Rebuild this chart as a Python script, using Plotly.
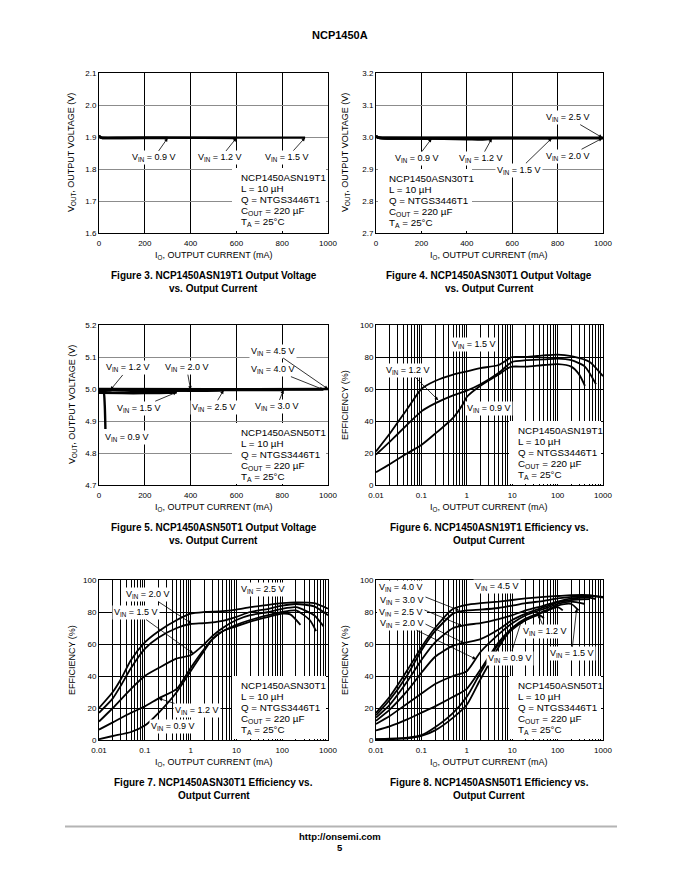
import math
import plotly.graph_objects as go

PAGE_W, PAGE_H = 680, 880
OFF = 8  # default body margin of the html page
W, H = PAGE_W - OFF, PAGE_H - OFF
FONT = "Liberation Sans, Arial, Helvetica, sans-serif"

# ---------------- DATA ----------------
# Figure 3: NCP1450ASN19T1 output voltage (V) vs output current (mA)
f3_io_09 = [0, 5, 15, 50, 150, 300]
f3_vo_09 = [1.905, 1.900, 1.897, 1.897, 1.897, 1.897]
f3_io_12 = [0, 5, 15, 100, 300, 600]
f3_vo_12 = [1.904, 1.899, 1.897, 1.897, 1.898, 1.897]
f3_io_15 = [0, 5, 15, 100, 500, 900]
f3_vo_15 = [1.903, 1.899, 1.898, 1.898, 1.898, 1.898]

# Figure 4: NCP1450ASN30T1 output voltage
f4_io_09 = [0, 10, 30, 100, 200, 245]
f4_vo_09 = [3.003, 2.998, 2.996, 2.995, 2.995, 2.995]
f4_io_12 = [0, 10, 30, 200, 400, 470, 510]
f4_vo_12 = [3.002, 2.998, 2.996, 2.995, 2.993, 2.992, 2.995]
f4_io_15 = [0, 10, 50, 400, 774]
f4_vo_15 = [3.002, 2.998, 2.997, 2.996, 2.996]
f4_io_20 = [0, 10, 50, 500, 1000]
f4_vo_20 = [3.001, 2.998, 2.997, 2.997, 2.996]
f4_io_25 = [0, 10, 50, 500, 1000]
f4_vo_25 = [3.001, 2.999, 2.998, 2.998, 2.998]

# Figure 5: NCP1450ASN50T1 output voltage
f5_io_09 = [0, 10, 20, 25, 28]
f5_vo_09 = [4.990, 4.990, 4.990, 4.950, 4.875]
f5_io_12 = [0, 20, 40, 55]
f5_vo_12 = [4.995, 4.994, 4.995, 4.997]
f5_io_15 = [0, 100, 200, 300, 340]
f5_vo_15 = [4.988, 4.987, 4.987, 4.988, 4.990]
f5_io_20 = [0, 100, 300, 400]
f5_vo_20 = [4.997, 4.995, 4.993, 4.998]
f5_io_25 = [0, 200, 400, 544]
f5_vo_25 = [4.998, 4.996, 4.994, 4.996]
f5_io_30 = [0, 400, 806]
f5_vo_30 = [4.998, 4.997, 4.997]
f5_io_40 = [0, 500, 980]
f5_vo_40 = [4.999, 4.998, 4.998]
f5_io_45 = [0, 500, 1000]
f5_vo_45 = [5.000, 4.999, 5.000]

# Figure 6: NCP1450ASN19T1 efficiency (%) vs output current (mA)
f6_io_15 = [0.01, 0.02, 0.05, 0.1, 0.2, 0.5, 1, 2, 5, 8, 10, 20, 50, 100, 200, 500, 1000]
f6_ef_15 = [21, 32, 48, 60, 65, 69, 71, 73, 75, 78.5, 80, 80, 81, 81.5, 80.5, 77, 68]
f6_io_12 = [0.01, 0.02, 0.05, 0.1, 0.2, 0.5, 1, 2, 5, 8, 10, 20, 50, 100, 200, 400, 700]
f6_ef_12 = [19, 27, 38, 46, 51, 56, 59, 63, 70, 75, 77, 78, 78.5, 79, 78, 74, 63]
f6_io_09 = [0.01, 0.02, 0.05, 0.1, 0.2, 0.5, 0.8, 1, 2, 5, 8, 10, 20, 50, 100, 200, 300, 400]
f6_ef_09 = [8, 13, 20, 25, 32, 42, 50, 55, 62, 69, 73, 74, 74, 75, 75.5, 74, 69, 62]

# Figure 7: NCP1450ASN30T1 efficiency
f7_io_25 = [0.01, 0.02, 0.03, 0.05, 0.1, 0.2, 0.5, 1, 2, 5, 10, 20, 50, 100, 200, 500, 1000]
f7_ef_25 = [20, 30, 38, 50, 61, 68, 75, 79, 80, 80.5, 81.5, 83, 84.5, 85.5, 86, 85.5, 82]
f7_io_20 = [0.01, 0.02, 0.03, 0.05, 0.1, 0.2, 0.5, 1, 2, 5, 10, 20, 50, 100, 200, 500, 1000]
f7_ef_20 = [17, 26, 34, 45, 57, 64, 70, 72.5, 73, 74.5, 77, 80, 82, 84, 85, 83.5, 78]
f7_io_15 = [0.01, 0.02, 0.05, 0.1, 0.2, 0.5, 1, 2, 3, 5, 10, 20, 50, 100, 200, 500, 800]
f7_ef_15 = [11.5, 20, 32, 40, 45, 51, 53, 60, 65, 70, 75, 78, 80, 82, 83, 78, 71]
f7_io_12 = [0.01, 0.02, 0.05, 0.1, 0.2, 0.5, 1, 2, 3, 5, 10, 20, 50, 100, 200, 400, 550]
f7_ef_12 = [6.5, 11, 17, 21, 26, 32, 45, 57, 63, 68, 72, 75, 78, 80, 81, 75, 68]
f7_io_09 = [0.01, 0.02, 0.05, 0.1, 0.2, 0.5, 1, 2, 3, 5, 10, 20, 50, 100, 150, 250]
f7_ef_09 = [0.5, 2.5, 5, 9, 17, 30, 43, 56, 63, 68, 71, 74, 77, 79, 78.5, 72]

# Figure 8: NCP1450ASN50T1 efficiency
f8_io_45 = [0.01, 0.02, 0.05, 0.1, 0.2, 0.5, 1, 2, 5, 10, 20, 50, 100, 200, 500, 1000]
f8_ef_45 = [17, 27, 44, 58, 70, 82, 84.5, 85.5, 86.5, 87.5, 88.5, 89.5, 90, 90.5, 90.5, 89]
f8_io_40 = [0.01, 0.02, 0.05, 0.1, 0.2, 0.5, 1, 2, 5, 10, 20, 50, 100, 200, 500, 1000]
f8_ef_40 = [15.5, 25, 41, 56, 68, 79, 81, 81.5, 82.5, 84, 85.5, 87, 88.5, 89.5, 90, 89.5]
f8_io_30 = [0.01, 0.02, 0.05, 0.1, 0.2, 0.5, 1, 2, 5, 10, 20, 50, 100, 200, 500, 700]
f8_ef_30 = [14, 22, 37, 50, 61, 70, 72, 73, 75.5, 78, 81, 84, 86.5, 88.5, 89, 88]
f8_io_25 = [0.01, 0.02, 0.05, 0.1, 0.2, 0.5, 1, 2, 5, 10, 20, 50, 100, 200, 500]
f8_ef_25 = [12, 19, 31, 42, 52, 59, 61, 63, 69, 75, 79, 83, 86, 87.5, 88]
f8_io_20 = [0.01, 0.02, 0.05, 0.1, 0.2, 0.5, 1, 2, 5, 10, 20, 50, 100, 200, 400]
f8_ef_20 = [10, 15, 23, 29, 35, 40, 43, 55, 66, 73, 78, 82, 85, 86.5, 85]
f8_io_15 = [0.01, 0.02, 0.05, 0.1, 0.2, 0.5, 1, 2, 5, 10, 20, 50, 100, 200, 290]
f8_ef_15 = [6, 8.5, 13, 17, 21, 27, 32, 44, 61, 70, 76, 80.5, 84, 85, 81]
f8_io_12 = [0.01, 0.02, 0.05, 0.1, 0.2, 0.5, 1, 2, 5, 10, 20, 50, 100, 130]
f8_ef_12 = [0.5, 0.8, 1.5, 3, 8, 17, 27, 42, 60, 69, 75, 80, 83, 81]
f8_io_09 = [0.01, 0.02, 0.05, 0.1, 0.2, 0.5, 1, 2, 5, 10, 20, 40, 50]
f8_ef_09 = [0.3, 0.5, 1, 2.5, 6, 14, 22, 38, 58, 70, 75, 78, 76]

# tick labels
lin_ticks = [0, 200, 400, 600, 800, 1000]
log_decades = [0.01, 0.1, 1, 10, 100, 1000]
log_decade_labels = ["0.01", "0.1", "1", "10", "100", "1000"]
v19_ticks = [1.6, 1.7, 1.8, 1.9, 2.0, 2.1]
v30_ticks = [2.7, 2.8, 2.9, 3.0, 3.1, 3.2]
v50_ticks = [4.7, 4.8, 4.9, 5.0, 5.1, 5.2]
eff_ticks = [0, 20, 40, 60, 80, 100]

# ---------------- LAYOUT HELPERS ----------------
def px(x):
    return (x - OFF) / W


def py(y):
    return 1 - (y - OFF) / H


# plot areas in page pixels: (left, right, top, bottom)
P = {
    1: (99, 328, 73, 233),
    2: (376, 603, 73, 233),
    3: (99, 328, 325, 485),
    4: (376, 603, 325, 485),
    5: (99, 328, 580, 740),
    6: (376, 603, 580, 740),
}

fig = go.Figure()
TF = dict(size=8, family=FONT, color="black")


def base_axis():
    return dict(showline=True, linecolor="black", linewidth=1, mirror=True,
                showgrid=True, gridcolor="black", gridwidth=1, zeroline=False,
                ticks="", tickfont=TF, automargin=False, fixedrange=True)


minor_vals = []
for e in range(-2, 3):
    for m in range(2, 10):
        minor_vals.append(round(m * 10 ** e, 6))

layout = {}
for k in range(1, 7):
    l, r, t, b = P[k]
    xa = base_axis()
    ya = base_axis()
    xa["domain"] = [px(l), px(r)]
    ya["domain"] = [py(b), py(t)]
    xa["anchor"] = "y" + ("" if k == 1 else str(k))
    ya["anchor"] = "x" + ("" if k == 1 else str(k))
    xa["ticklabelstandoff"] = 2
    if k <= 3:
        xa.update(range=[0, 1000], tickvals=lin_ticks)
        ticks = {1: v19_ticks, 2: v30_ticks, 3: v50_ticks}[k]
        ya.update(range=[ticks[0], ticks[-1]], tickvals=ticks,
                  ticktext=["%.1f" % t_ for t_ in ticks], gridcolor="#8c8c8c")
    else:
        xa.update(type="log", range=[-2, 3], tickvals=log_decades, ticktext=log_decade_labels,
                  minor=dict(tickmode="array", tickvals=minor_vals, showgrid=True,
                             gridcolor="black", gridwidth=1, ticks=""))
        ya.update(range=[0, 100], tickvals=eff_ticks)
    sfx = "" if k == 1 else str(k)
    layout["xaxis" + sfx] = xa
    layout["yaxis" + sfx] = ya


def add_curve(k, xs, ys, width):
    sfx = "" if k == 1 else str(k)
    fig.add_trace(go.Scatter(x=xs, y=ys, mode="lines", xaxis="x" + sfx, yaxis="y" + sfx,
                             line=dict(color="black", width=width, shape="spline", smoothing=0.6),
                             hoverinfo="skip", showlegend=False))


VW = 2.4
EW = 1.8
for xs, ys in [(f3_io_09, f3_vo_09), (f3_io_12, f3_vo_12), (f3_io_15, f3_vo_15)]:
    add_curve(1, xs, ys, VW)
for xs, ys in [(f4_io_09, f4_vo_09), (f4_io_12, f4_vo_12), (f4_io_15, f4_vo_15),
               (f4_io_20, f4_vo_20), (f4_io_25, f4_vo_25)]:
    add_curve(2, xs, ys, VW)
for xs, ys in [(f5_io_09, f5_vo_09), (f5_io_12, f5_vo_12), (f5_io_15, f5_vo_15),
               (f5_io_20, f5_vo_20), (f5_io_25, f5_vo_25), (f5_io_30, f5_vo_30),
               (f5_io_40, f5_vo_40), (f5_io_45, f5_vo_45)]:
    add_curve(3, xs, ys, VW)
for xs, ys in [(f6_io_15, f6_ef_15), (f6_io_12, f6_ef_12), (f6_io_09, f6_ef_09)]:
    add_curve(4, xs, ys, EW)
for xs, ys in [(f7_io_25, f7_ef_25), (f7_io_20, f7_ef_20), (f7_io_15, f7_ef_15),
               (f7_io_12, f7_ef_12), (f7_io_09, f7_ef_09)]:
    add_curve(5, xs, ys, EW)
for xs, ys in [(f8_io_45, f8_ef_45), (f8_io_40, f8_ef_40), (f8_io_30, f8_ef_30),
               (f8_io_25, f8_ef_25), (f8_io_20, f8_ef_20), (f8_io_15, f8_ef_15),
               (f8_io_12, f8_ef_12), (f8_io_09, f8_ef_09)]:
    add_curve(6, xs, ys, EW)

annotations = []
shapes = []
LF = dict(size=9, family=FONT, color="black")


def vin(v):
    return "V<sub>IN</sub> = %s V" % v


def text_px(txt, x, y, size=9, bold=False, anchor="center", bg=None, angle=0):
    if bold:
        txt = "<b>%s</b>" % txt
    a = dict(text=txt, x=px(x), y=py(y), xref="paper", yref="paper", showarrow=False,
             xanchor=anchor, yanchor="middle", font=dict(size=size, family=FONT, color="black"),
             textangle=angle)
    if bg:
        a.update(bgcolor=bg, borderpad=1)
    annotations.append(a)


def white_px(x0, y0, x1, y1):
    shapes.append(dict(type="rect", xref="paper", yref="paper", x0=px(x0), x1=px(x1),
                       y0=py(y1), y1=py(y0), fillcolor="white", line=dict(width=0),
                       layer="above"))


def arrow_lab(k, txt, xv, yv, ax, ay, logx=False):
    sfx = "" if k == 1 else str(k)
    annotations.append(dict(text=txt, x=math.log10(xv) if logx else xv, y=yv,
                            xref="x" + sfx, yref="y" + sfx, ax=ax, ay=ay,
                            showarrow=True, arrowhead=2, arrowsize=0.9, arrowwidth=0.8,
                            arrowcolor="black", standoff=0, font=LF,
                            bgcolor="white", borderpad=1))


# Figure 3 labels
arrow_lab(1, vin("0.9"), 300, 1.897, -14, 20)
arrow_lab(1, vin("1.2"), 600, 1.897, -16, 20)
arrow_lab(1, vin("1.5"), 900, 1.898, -18, 20)
# Figure 4 labels
arrow_lab(2, vin("0.9"), 245, 2.995, -15, 20)
arrow_lab(2, vin("1.2"), 510, 2.995, -11, 20)
arrow_lab(2, vin("1.5"), 774, 2.996, -33, 32)
arrow_lab(2, vin("2.0"), 997, 2.996, -34, 18)
arrow_lab(2, vin("2.5"), 997, 2.998, -34, -20)
# Figure 5 labels
arrow_lab(3, vin("1.2"), 50, 4.997, 18, -22)
arrow_lab(3, vin("2.0"), 400, 4.998, -4, -22)
arrow_lab(3, vin("1.5"), 339, 4.990, -38, 16)
arrow_lab(3, vin("2.5"), 544, 4.996, -10, 17)
arrow_lab(3, vin("3.0"), 806, 4.997, -7, 17)
arrow_lab(3, vin("4.0"), 980, 4.998, -50, -20)
arrow_lab(3, vin("4.5"), 1000, 5.000, -55, -38)
text_px(vin("0.9"), 126.7, 437.7, bg="white")
# Figure 6 labels
text_px(vin("1.5"), 474, 344.3, bg="white")
arrow_lab(4, vin("1.2"), 0.235, 53, -30, -30, logx=True)
text_px(vin("0.9"), 489.3, 408.3, bg="white")
# Figure 7 labels
text_px(vin("2.5"), 263.3, 589.3, bg="white")
arrow_lab(5, vin("2.0"), 1.06, 72.7, -44, -29, logx=True)
arrow_lab(5, vin("1.5"), 1.15, 54, -57, -41, logx=True)
arrow_lab(5, vin("1.2"), 0.2, 26, 38, 12, logx=True)
text_px(vin("0.9"), 173.3, 726.7, bg="white")
# Figure 8 labels (white block behind the stacked labels)
white_px(377, 581, 427, 626)
text_px(vin("4.5"), 496.7, 586.7, bg="white")
arrow_lab(6, vin("4.0"), 0.68, 81, -58, -23, logx=True)
arrow_lab(6, vin("3.0"), 0.78, 71.5, -60, -25, logx=True)
arrow_lab(6, vin("2.5"), 0.88, 60.5, -63, -31, logx=True)
arrow_lab(6, vin("2.0"), 1.6, 50.5, -74, -36, logx=True)
arrow_lab(6, vin("1.2"), 37.6, 78.5, 7, 17, logx=True)
arrow_lab(6, vin("0.9"), 16.2, 75, -12, 38, logx=True)
arrow_lab(6, vin("1.5"), 263, 82, -5, 45, logx=True)


# info boxes
def info_box(xl, ytop, part, box):
    x0, y0, x1, y1 = box
    white_px(x0, y0, x1, y1)
    lines = [part, "L = 10 \u00b5H", "Q = NTGS3446T1",
             "C<sub>OUT</sub> = 220 \u00b5F", "T<sub>A</sub> = 25\u00b0C"]
    for i, ln in enumerate(lines):
        text_px(ln, xl, ytop + i * 11.2, size=9.8, anchor="left")


info_box(239, 177, "NCP1450ASN19T1", (232, 168, 326, 231))
info_box(387, 178, "NCP1450ASN30T1", (378, 169, 472, 231))
info_box(239, 432, "NCP1450ASN50T1", (232, 423, 326, 484))
info_box(516, 430, "NCP1450ASN19T1", (509, 421, 601, 484))
info_box(239, 685, "NCP1450ASN30T1", (232, 676, 326, 739))
info_box(516, 685, "NCP1450ASN50T1", (509, 676, 601, 739))

# axis titles and captions
captions = {
    1: ("Figure 3. NCP1450ASN19T1 Output Voltage", "vs. Output Current"),
    2: ("Figure 4. NCP1450ASN30T1 Output Voltage", "vs. Output Current"),
    3: ("Figure 5. NCP1450ASN50T1 Output Voltage", "vs. Output Current"),
    4: ("Figure 6. NCP1450ASN19T1 Efficiency vs.", "Output Current"),
    5: ("Figure 7. NCP1450ASN30T1 Efficiency vs.", "Output Current"),
    6: ("Figure 8. NCP1450ASN50T1 Efficiency vs.", "Output Current"),
}
ytitle_x = {1: 72, 2: 346, 3: 72, 4: 345, 5: 72, 6: 345}
for k in range(1, 7):
    l, r, t, b = P[k]
    cx = (l + r) / 2
    cy = (t + b) / 2
    text_px("I<sub>O</sub>, OUTPUT CURRENT (mA)", cx, b + 22)
    ttl = "V<sub>OUT</sub>, OUTPUT VOLTAGE (V)" if k <= 3 else "EFFICIENCY (%)"
    text_px(ttl, ytitle_x[k], cy, angle=-90)
    c1, c2 = captions[k]
    text_px(c1, cx, b + 42, size=10, bold=True)
    text_px(c2, cx, b + 55, size=10, bold=True)

# page header/footer
text_px("NCP1450A", 340, 35, size=11, bold=True)
shapes.append(dict(type="line", xref="paper", yref="paper", x0=px(65), x1=px(617),
                   y0=py(826.5), y1=py(826.5), line=dict(color="#b4b4b4", width=2)))
text_px("http://onsemi.com", 340, 836, size=9.5, bold=True)
text_px("5", 340, 847, size=9.5, bold=True)

fig.update_layout(**layout)
fig.update_layout(width=W, height=H, margin=dict(l=0, r=0, t=0, b=0),
                  paper_bgcolor="white", plot_bgcolor="white", showlegend=False,
                  annotations=annotations, shapes=shapes,
                  font=dict(family=FONT, color="black"))
fig.write_html("out.html")
